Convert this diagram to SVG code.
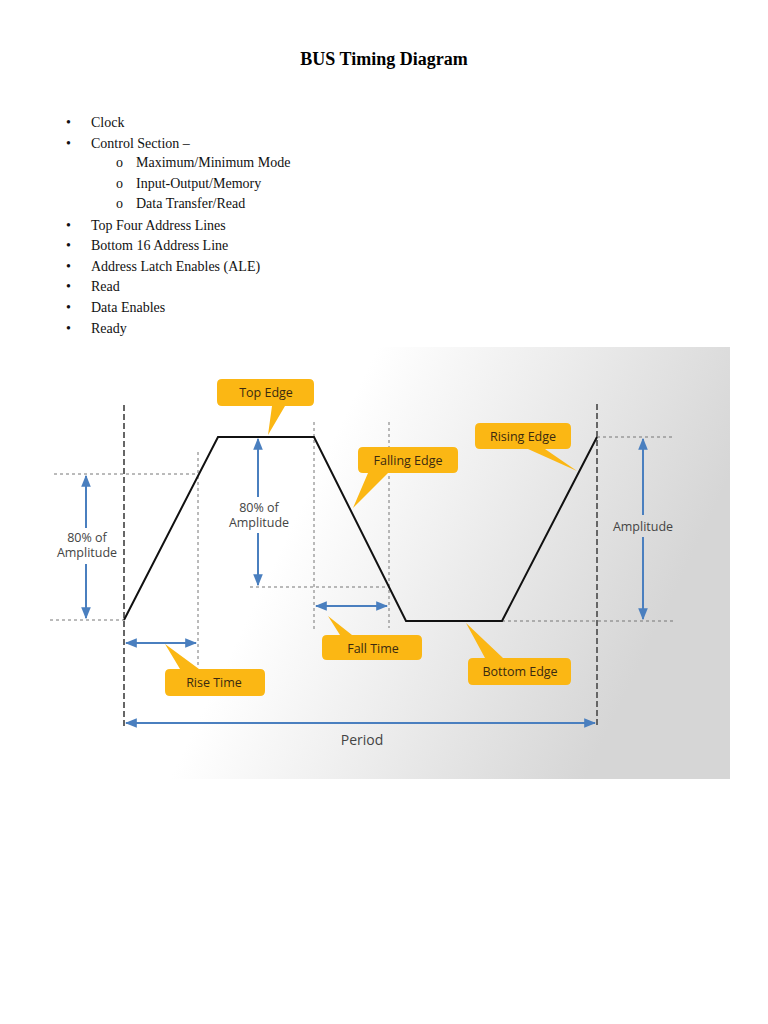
<svg xmlns="http://www.w3.org/2000/svg" width="768" height="1024" viewBox="0 0 768 1024">
<defs>
<linearGradient id="bg" x1="0" y1="0" x2="1" y2="0.3"><stop offset="0.45" stop-color="#ffffff"/><stop offset="1" stop-color="#d6d6d6"/></linearGradient>
<marker id="ah" viewBox="0 0 10 10" refX="9" refY="5" markerWidth="6" markerHeight="6" orient="auto-start-reverse"><path d="M0,1 L10,5 L0,9 z" fill="#4a7fbf"/></marker>
<style>
.t{font-family:"Liberation Serif",serif;font-size:14px;fill:#111}
.l{font-family:"Open Sans","DejaVu Sans",sans-serif;font-size:12.5px;fill:#444;text-anchor:middle}
.c{font-family:"Open Sans","DejaVu Sans",sans-serif;font-size:12.5px;fill:#3a2a10;text-anchor:middle}
.box{fill:#fbb714}
.dl{stroke:#777;stroke-width:1;stroke-dasharray:3,3;fill:none}
.dv{stroke:#666;stroke-width:2;stroke-dasharray:6,3;fill:none}
.ar{stroke:#4a7fbf;stroke-width:2;fill:none}
.s{marker-start:url(#ah)}
.e{marker-end:url(#ah)}
</style>
</defs>
<rect width="768" height="1024" fill="#fff"/>
<text x="384" y="65" text-anchor="middle" style="font-family:'Liberation Serif',serif;font-size:18px;font-weight:bold">BUS Timing Diagram</text>
<g class="t">
<text x="66" y="127">•</text><text x="91" y="127">Clock</text>
<text x="66" y="148">•</text><text x="91" y="148">Control Section –</text>
<text x="116" y="167">o</text><text x="136" y="167">Maximum/Minimum Mode</text>
<text x="116" y="188">o</text><text x="136" y="188">Input-Output/Memory</text>
<text x="116" y="208">o</text><text x="136" y="208">Data Transfer/Read</text>
<text x="66" y="230">•</text><text x="91" y="230">Top Four Address Lines</text>
<text x="66" y="250">•</text><text x="91" y="250">Bottom 16 Address Line</text>
<text x="66" y="271">•</text><text x="91" y="271">Address Latch Enables (ALE)</text>
<text x="66" y="291">•</text><text x="91" y="291">Read</text>
<text x="66" y="312">•</text><text x="91" y="312">Data Enables</text>
<text x="66" y="333">•</text><text x="91" y="333">Ready</text>
</g>
<rect x="38" y="347" width="692" height="432" fill="url(#bg)"/>
<g id="guides">
<line class="dv" x1="124" y1="405" x2="124" y2="727"/>
<line class="dv" x1="597" y1="404" x2="597" y2="727"/>
<line class="dl" x1="198" y1="452" x2="198" y2="665"/>
<line class="dl" x1="314" y1="422" x2="314" y2="630"/>
<line class="dl" x1="389" y1="422" x2="389" y2="628"/>
<line class="dl" x1="54" y1="474" x2="198" y2="474"/>
<line class="dl" x1="50" y1="620" x2="124" y2="620"/>
<line class="dl" x1="250" y1="587" x2="389" y2="587"/>
<line class="dl" x1="597" y1="437" x2="673" y2="437"/>
<line class="dl" x1="502" y1="621" x2="676" y2="621"/>
</g>
<g id="waveform"><polyline points="124,620 218,437 314,437 406,621 502,621 597,437" fill="none" stroke="#111" stroke-width="2"/></g>
<g id="connectors">
<line class="ar s" x1="86" y1="476" x2="86" y2="528"/>
<line class="ar e" x1="86" y1="564" x2="86" y2="618"/>
<line class="ar s" x1="258" y1="439" x2="258" y2="497"/>
<line class="ar e" x1="258" y1="533" x2="258" y2="585"/>
<line class="ar s" x1="643" y1="439" x2="643" y2="515"/>
<line class="ar e" x1="643" y1="537" x2="643" y2="619"/>
<line class="ar s e" x1="126" y1="643" x2="196" y2="643"/>
<line class="ar s e" x1="316" y1="606" x2="387" y2="606"/>
<line class="ar s e" x1="126" y1="723" x2="595" y2="723"/>
</g>
<g id="labels">
<text class="l" x="87" y="542">80% of</text><text class="l" x="87" y="557">Amplitude</text>
<text class="l" x="259" y="512">80% of</text><text class="l" x="259" y="527">Amplitude</text>
<text class="l" x="643" y="531">Amplitude</text>
<text class="l" x="362" y="745" style="font-size:14px">Period</text>
</g>
<g id="top-edge"><path class="box" d="M222,379 H309 Q314,379 314,384 V401 Q314,406 309,406 H285 L268,435 L272,406 H222 Q217,406 217,401 V384 Q217,379 222,379 Z"/><text class="c" x="266" y="397">Top Edge</text></g>
<g id="falling-edge"><path class="box" d="M363,447 H453 Q458,447 458,452 V468 Q458,473 453,473 H388 L353,508 L368,473 H363 Q358,473 358,468 V452 Q358,447 363,447 Z"/><text class="c" x="408" y="465">Falling Edge</text></g>
<g id="rising-edge"><path class="box" d="M480,423 H566 Q571,423 571,428 V444 Q571,449 566,449 H545 L577,471 L528,449 H480 Q475,449 475,444 V428 Q475,423 480,423 Z"/><text class="c" x="523" y="441">Rising Edge</text></g>
<g id="fall-time"><path class="box" d="M327,635 H417 Q422,635 422,640 V655 Q422,660 417,660 H327 Q322,660 322,655 V640 Q322,635 327,635 H352 L328,616 L340,635 Z"/><text class="c" x="373" y="653">Fall Time</text></g>
<g id="rise-time"><path class="box" d="M170,669 H260 Q265,669 265,674 V691 Q265,696 260,696 H170 Q165,696 165,691 V674 Q165,669 170,669 H199 L165,644 L180,669 Z"/><text class="c" x="214" y="687">Rise Time</text></g>
<g id="bottom-edge"><path class="box" d="M473,658 H566 Q571,658 571,663 V680 Q571,685 566,685 H473 Q468,685 468,680 V663 Q468,658 473,658 H503 L466,623 L485,658 Z"/><text class="c" x="520" y="676">Bottom Edge</text></g>
</svg>
